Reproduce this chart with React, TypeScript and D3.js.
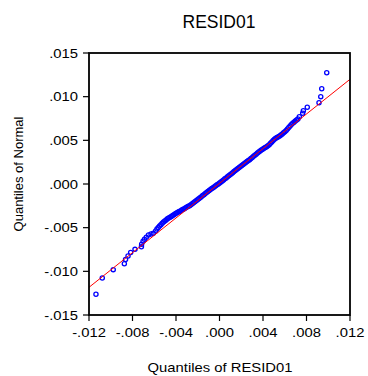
import React from "react";
import * as d3 from "d3";

const title = "RESID01";
const xLabel = "Quantiles of RESID01";
const yLabel = "Quantiles of Normal";

const xTicks = [-0.012, -0.008, -0.004, 0.0, 0.004, 0.008, 0.012];
const xTickLabels = ["-.012", "-.008", "-.004", ".000", ".004", ".008", ".012"];
const yTicks = [-0.015, -0.01, -0.005, 0.0, 0.005, 0.01, 0.015];
const yTickLabels = ["-.015", "-.010", "-.005", ".000", ".005", ".010", ".015"];

// sorted residuals (x) and matching normal quantiles (y)
const residuals = [
  -0.01136, -0.01078, -0.00977, -0.00875, -0.00864, -0.00841, -0.00817, -0.00777, -0.00718, -0.00716,
  -0.00703, -0.0069, -0.00673, -0.00653, -0.0063, -0.00609, -0.00587,
  -0.00575, -0.00563, -0.00551, -0.00539, -0.00527, -0.00515, -0.00503, -0.00491, -0.00479, -0.00467,
  -0.00455, -0.00443, -0.00431, -0.00419, -0.00407, -0.00395, -0.00383, -0.00371, -0.00359, -0.00347,
  -0.00335, -0.00323, -0.00311, -0.00299, -0.00287, -0.00275, -0.00263, -0.00251, -0.00239, -0.00227,
  -0.00215, -0.00203, -0.00191, -0.00179, -0.00167, -0.00155, -0.00143, -0.00131, -0.00119, -0.00107,
  -0.00095, -0.00083, -0.00071, -0.00059, -0.00047, -0.00035, -0.00023, -0.00011, 0.00001, 0.00013,
  0.00025, 0.00037, 0.00049, 0.00061, 0.00073, 0.00085, 0.00097, 0.00109, 0.00121, 0.00133,
  0.00145, 0.00157, 0.00169, 0.00181, 0.00193, 0.00205, 0.00217, 0.00229, 0.00241, 0.00253,
  0.00265, 0.00277, 0.00289, 0.00301, 0.00313, 0.00325, 0.00337, 0.00349, 0.00361, 0.00373,
  0.00385, 0.00397, 0.00409, 0.00421, 0.00433, 0.00445, 0.00457, 0.00469, 0.00481, 0.00493,
  0.00505, 0.00517, 0.00529, 0.00541, 0.00553, 0.00565, 0.00577, 0.00589, 0.00601, 0.00613,
  0.00625, 0.00637, 0.00649, 0.00661, 0.00673, 0.00685, 0.00697, 0.00709, 0.00721,
  0.00734, 0.00765, 0.00771, 0.00807, 0.00915, 0.00931, 0.0094, 0.00986,
];

const normalQuantiles = [
  -0.01263, -0.01076, -0.00981, -0.00914, -0.00864, -0.00824, -0.00784, -0.00748, -0.00719, -0.0069,
  -0.00656, -0.00633, -0.00609, -0.00584, -0.00573, -0.00564, -0.00538,
  -0.00516, -0.00499, -0.00482, -0.00466, -0.00449, -0.00435, -0.00423, -0.00411, -0.00399, -0.0039,
  -0.0038, -0.00371, -0.00361, -0.00351, -0.00342, -0.00333, -0.00324, -0.00316, -0.00308, -0.00299,
  -0.0029, -0.00282, -0.00273, -0.00264, -0.00256, -0.00249, -0.00239, -0.00227, -0.00215, -0.00204,
  -0.00192, -0.0018, -0.00169, -0.00157, -0.00145, -0.00133, -0.00122, -0.0011, -0.00098, -0.00086,
  -0.00074, -0.00063, -0.00052, -0.00042, -0.00031, -0.0002, -0.0001, 0.00001, 0.00011, 0.00023,
  0.00035, 0.00047, 0.00059, 0.0007, 0.00082, 0.00094, 0.00106, 0.00118, 0.0013, 0.00142,
  0.00154, 0.00165, 0.00177, 0.00189, 0.00201, 0.00212, 0.00223, 0.00235, 0.00246, 0.00257,
  0.00268, 0.00279, 0.00292, 0.00304, 0.00317, 0.00329, 0.00342, 0.00354, 0.00367, 0.00379,
  0.00388, 0.00398, 0.00408, 0.00417, 0.00427, 0.00437, 0.0045, 0.00466, 0.00482, 0.00497,
  0.00513, 0.00525, 0.00533, 0.00541, 0.0055, 0.0056, 0.00573, 0.00586, 0.00599, 0.00613,
  0.0063, 0.00647, 0.00664, 0.00681, 0.00696, 0.00708, 0.0072, 0.00732, 0.00745,
  0.00771, 0.0081, 0.00839, 0.00878, 0.00931, 0.01, 0.01091, 0.01274,
];

const refLineX = [-0.012, 0.012];
const refLineY = [-0.01183, 0.01199];

const W = 368;
const H = 376;
const plot = { left: 89, right: 350, top: 53, bottom: 315 };
const FONT = "'Liberation Sans', Arial, Helvetica, sans-serif";
const STRETCH = 1.14;

export default function App() {
  const x = d3.scaleLinear().domain([-0.012, 0.012]).range([plot.left, plot.right]);
  const y = d3.scaleLinear().domain([-0.015, 0.015]).range([plot.bottom, plot.top]);
  const n = Math.min(residuals.length, normalQuantiles.length);
  const pts = d3.range(n).map((i) => [residuals[i], normalQuantiles[i]]);
  const line = d3
    .line<number>()
    .x((_, i) => x(refLineX[i]))
    .y((_, i) => y(refLineY[i]));

  return (
    <svg
      width={W}
      height={H}
      style={{ position: "absolute", left: 0, top: 0, background: "#fff" }}
      fontFamily={FONT}
    >
      <rect x={0} y={0} width={W} height={H} fill="#fff" />
      <text x={219} y={28} textAnchor="middle" fontSize={17.5} fill="#000">
        {title}
      </text>

      {/* points */}
      <g>
        {pts.map((p, i) => (
          <circle key={i} cx={x(p[0])} cy={y(p[1])} r={2.1} fill="none" stroke="#0000ff" strokeWidth={1.3} />
        ))}
      </g>
      {/* reference line */}
      <path d={line(refLineX) || ""} fill="none" stroke="#ff0000" strokeWidth={1} />

      {/* frame */}
      <rect
        x={plot.left}
        y={plot.top}
        width={plot.right - plot.left}
        height={plot.bottom - plot.top}
        fill="none"
        stroke="#000"
        strokeWidth={1.8}
      />

      {/* y axis ticks */}
      {yTicks.map((t, i) => (
        <g key={"y" + i}>
          <line x1={plot.left - 6} x2={plot.left} y1={y(t)} y2={y(t)} stroke="#000" strokeWidth={1.2} />
          <text
            transform={`translate(78,${y(t) + 4.6}) scale(${STRETCH},1)`}
            textAnchor="end"
            fontSize={13}
            fill="#000"
          >
            {yTickLabels[i]}
          </text>
        </g>
      ))}

      {/* x axis ticks */}
      {xTicks.map((t, i) => (
        <g key={"x" + i}>
          <line x1={x(t)} x2={x(t)} y1={plot.bottom} y2={plot.bottom + 6} stroke="#000" strokeWidth={1.2} />
          <text
            transform={`translate(${x(t)},337) scale(${STRETCH},1)`}
            textAnchor="middle"
            fontSize={13}
            fill="#000"
          >
            {xTickLabels[i]}
          </text>
        </g>
      ))}

      <text
        transform={`translate(220,372) scale(${STRETCH},1)`}
        textAnchor="middle"
        fontSize={13}
        fill="#000"
      >
        {xLabel}
      </text>
      <text transform="translate(23,174) rotate(-90)" textAnchor="middle" fontSize={13} fill="#000">
        {yLabel}
      </text>
    </svg>
  );
}
